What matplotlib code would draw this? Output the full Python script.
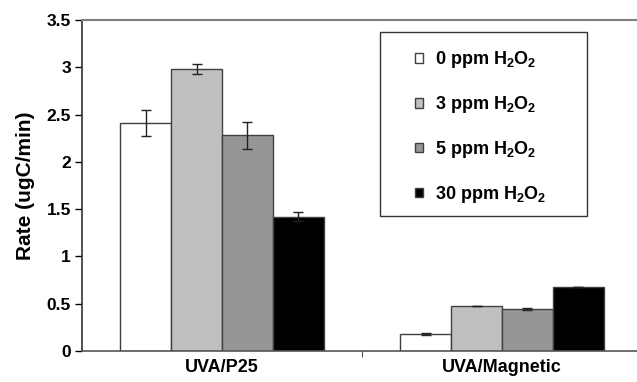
import numpy as np
import matplotlib.pyplot as plt
from matplotlib.patches import Rectangle

plt.rcParams['font.family'] = ['Liberation Sans', 'DejaVu Sans']
plt.rcParams['font.weight'] = 'bold'
plt.rcParams['axes.labelweight'] = 'bold'
plt.rcParams['mathtext.fontset'] = 'custom'
plt.rcParams['mathtext.rm'] = 'Liberation Sans:bold'
plt.rcParams['mathtext.bf'] = 'Liberation Sans:bold'

groups = ['UVA/P25', 'UVA/Magnetic']
series = ['0 ppm H$_2$O$_2$', '3 ppm H$_2$O$_2$', '5 ppm H$_2$O$_2$', '30 ppm H$_2$O$_2$']
rates = [
    [2.41, 0.18],
    [2.98, 0.48],
    [2.28, 0.44],
    [1.42, 0.68],
]
errors = [
    [0.14, 0.01],
    [0.05, 0.00],
    [0.14, 0.01],
    [0.05, 0.00],
]
colors = ['white', '#c0c0c0', '#969696', 'black']

fig = plt.figure(figsize=(6.37, 3.82), dpi=100)
ax = fig.add_axes([82 / 637, 31 / 382, 560 / 637, 331 / 382])

x = np.arange(len(groups))
width = 0.182

for i in range(len(series)):
    offs = (i - 1.5) * width
    ax.bar(x + offs, rates[i], width, color=colors[i], edgecolor='#404040',
           linewidth=1, label=series[i], zorder=2)
    ax.errorbar(x + offs, rates[i], yerr=errors[i], fmt='none', ecolor='#222222',
                elinewidth=1, capsize=3.5, capthick=1, zorder=3)

ax.set_xlim(-0.5, 1.5)
ax.set_ylim(0, 3.5)
ax.set_yticks(np.arange(0, 3.51, 0.5))
ax.set_yticklabels(['0', '0.5', '1', '1.5', '2', '2.5', '3', '3.5'])
ax.set_xticks([0.5])
ax.set_xticklabels([''])
ax.set_xticks(x, minor=True)
ax.set_xticklabels(groups, minor=True)
ax.tick_params(axis='x', which='minor', length=0, pad=6, labelsize=13)
ax.tick_params(axis='x', which='major', length=4, color='#555555')
ax.tick_params(axis='y', length=5, width=1, labelsize=12.5, pad=3)
ax.set_ylabel('Rate (ugC/min)', fontsize=15, labelpad=8)

ax.spines['right'].set_visible(False)
ax.spines['top'].set_color('#808080')
ax.spines['top'].set_linewidth(1.5)
ax.spines['bottom'].set_color('#555555')
ax.spines['bottom'].set_linewidth(1.2)
ax.spines['left'].set_color('#333333')
ax.spines['left'].set_linewidth(1.2)

# legend frame drawn separately so the padding matches
ax.add_patch(Rectangle((0.532, 0.408), 0.37, 0.556, transform=ax.transAxes,
                       fill=False, edgecolor='#333333', linewidth=1, zorder=4))
ax.legend(loc='upper left', bbox_to_anchor=(0.568, 0.955), frameon=False,
          fontsize=13, handlelength=0.45, handleheight=0.45, handletextpad=0.7,
          labelspacing=1.32, borderpad=0.3)

plt.savefig('out.png', dpi=100)
